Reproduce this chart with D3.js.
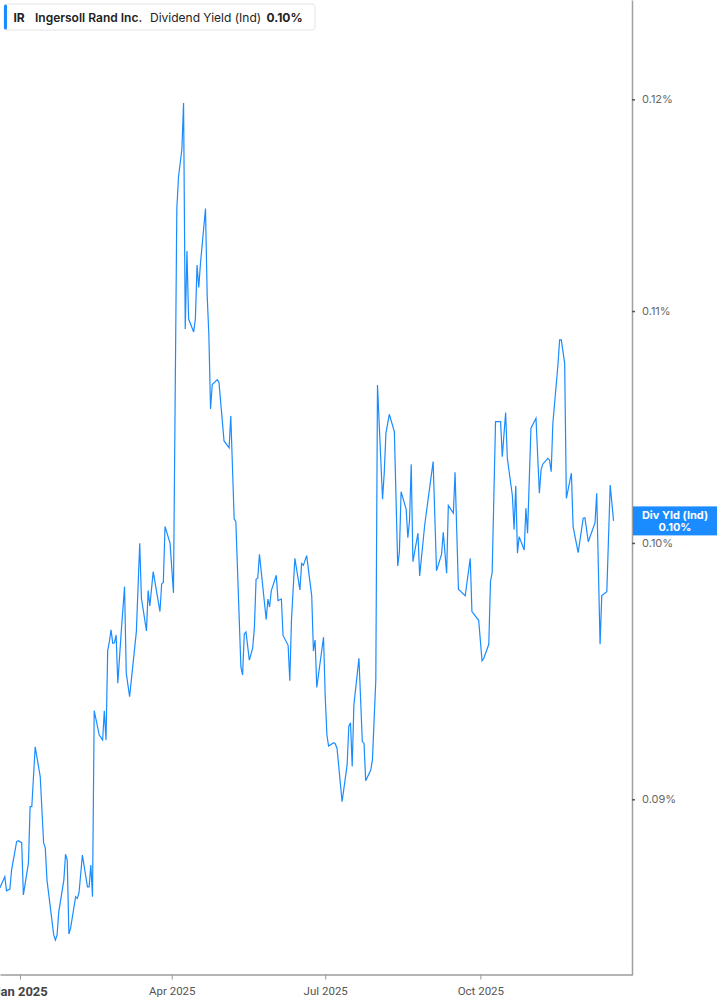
<!DOCTYPE html>
<html lang="en">
<head>
<meta charset="UTF-8">
<title>IR Dividend Yield</title>
<script src="https://d3js.org/d3.v7.min.js"></script>
<style>
  body { margin: 0; background: #fff; }
  svg { display: block; font-family: Inter, Roboto, "Open Sans", sans-serif; }
  .line { fill: none; stroke: #1a8cff; stroke-width: 1.2; }
</style>
</head>
<body>
<svg width="717" height="1005"></svg>
<script>
// daily dividend yield readings (percent)
const dates = [
  "2024-12-20","2024-12-23","2024-12-24","2024-12-26","2024-12-27","2024-12-30","2024-12-31",
  "2025-01-02","2025-01-03","2025-01-06","2025-01-07","2025-01-08","2025-01-10","2025-01-13",
  "2025-01-15","2025-01-16","2025-01-17","2025-01-21","2025-01-22","2025-01-23","2025-01-24",
  "2025-01-27","2025-01-28","2025-01-29","2025-01-30","2025-01-31","2025-02-03","2025-02-04",
  "2025-02-05","2025-02-07","2025-02-10","2025-02-11","2025-02-12","2025-02-13","2025-02-14",
  "2025-02-17","2025-02-19","2025-02-20","2025-02-21","2025-02-22","2025-02-23","2025-02-24",
  "2025-02-25","2025-02-26","2025-02-27","2025-02-28","2025-03-02","2025-03-04","2025-03-05",
  "2025-03-07","2025-03-11","2025-03-13","2025-03-14","2025-03-17","2025-03-18","2025-03-19",
  "2025-03-21","2025-03-25","2025-03-26","2025-03-27","2025-03-28","2025-03-31","2025-04-02",
  "2025-04-04","2025-04-05","2025-04-07","2025-04-08","2025-04-09","2025-04-10","2025-04-11",
  "2025-04-14","2025-04-15","2025-04-16","2025-04-17","2025-04-18","2025-04-21","2025-04-22",
  "2025-04-23","2025-04-24","2025-04-25","2025-04-28","2025-04-29","2025-05-02","2025-05-05",
  "2025-05-06","2025-05-08","2025-05-09","2025-05-12","2025-05-13","2025-05-14","2025-05-15",
  "2025-05-17","2025-05-19","2025-05-20","2025-05-21","2025-05-22","2025-05-23","2025-05-27",
  "2025-05-28","2025-05-29","2025-05-30","2025-06-02","2025-06-03","2025-06-05","2025-06-06",
  "2025-06-09","2025-06-10","2025-06-11","2025-06-13","2025-06-16","2025-06-17","2025-06-18",
  "2025-06-20","2025-06-23","2025-06-24","2025-06-25","2025-06-26","2025-06-30","2025-07-01",
  "2025-07-02","2025-07-03","2025-07-06","2025-07-07","2025-07-08","2025-07-11","2025-07-14",
  "2025-07-15","2025-07-16","2025-07-17","2025-07-18","2025-07-21","2025-07-23","2025-07-24",
  "2025-07-25","2025-07-28","2025-07-29","2025-07-31","2025-08-01","2025-08-04","2025-08-05",
  "2025-08-06","2025-08-08","2025-08-11","2025-08-13","2025-08-14","2025-08-15","2025-08-18",
  "2025-08-19","2025-08-20","2025-08-21","2025-08-22","2025-08-25","2025-08-26","2025-08-29",
  "2025-09-03","2025-09-05","2025-09-08","2025-09-09","2025-09-11","2025-09-12","2025-09-15",
  "2025-09-16","2025-09-18","2025-09-22","2025-09-25","2025-09-26","2025-09-30","2025-10-02",
  "2025-10-03","2025-10-06","2025-10-07","2025-10-08","2025-10-10","2025-10-13","2025-10-14",
  "2025-10-16","2025-10-17","2025-10-20","2025-10-21","2025-10-22","2025-10-23","2025-10-24",
  "2025-10-27","2025-10-28","2025-10-29","2025-10-31","2025-11-03","2025-11-05","2025-11-06",
  "2025-11-07","2025-11-10","2025-11-11","2025-11-12","2025-11-13","2025-11-16","2025-11-17",
  "2025-11-18","2025-11-20","2025-11-21","2025-11-24","2025-11-25","2025-11-28","2025-12-01",
  "2025-12-02","2025-12-04","2025-12-08","2025-12-09","2025-12-11","2025-12-12","2025-12-15",
  "2025-12-17","2025-12-19"
];
const yieldPct = [
  0.08678,0.08718,0.08668,0.08674,0.08742,0.08845,0.08848,
  0.08841,0.08653,0.08767,0.08973,0.08973,0.09196,0.09084,
  0.08840,0.08822,0.08706,0.08512,0.08494,0.08512,0.08594,
  0.08706,0.08799,0.08778,0.08515,0.08536,0.08647,0.08641,
  0.08661,0.08796,0.08682,0.08682,0.08760,0.08647,0.09334,
  0.09241,0.09222,0.09333,0.09222,0.09567,0.09602,0.09649,
  0.09596,0.09598,0.09629,0.09440,0.09638,0.09822,0.09479,
  0.09388,0.09642,0.09999,0.09775,0.09645,0.09806,0.09744,
  0.09883,0.09722,0.09833,0.09839,0.10068,0.09998,0.09797,
  0.11473,0.11623,0.11756,0.11982,0.10919,0.11275,0.10964,
  0.10906,0.10964,0.11210,0.11107,0.11215,0.11473,0.11071,
  0.10892,0.10566,0.10673,0.10694,0.10682,0.10428,0.10399,
  0.10536,0.10100,0.10088,0.09503,0.09472,0.09633,0.09641,
  0.09530,0.09578,0.09659,0.09852,0.09857,0.09953,0.09690,
  0.09772,0.09740,0.09805,0.09868,0.09766,0.09772,0.09627,
  0.09588,0.09449,0.09690,0.09937,0.09809,0.09916,0.09908,
  0.09948,0.09785,0.09566,0.09609,0.09423,0.09620,0.09388,
  0.09241,0.09199,0.09212,0.09207,0.09191,0.08991,0.09128,
  0.09275,0.09288,0.09122,0.09356,0.09537,0.09216,0.09210,
  0.09069,0.09109,0.09147,0.09452,0.10671,0.10181,0.10291,
  0.10461,0.10543,0.10468,0.09906,0.09964,0.10213,0.10139,
  0.10022,0.10092,0.10329,0.09923,0.10040,0.09865,0.10074,
  0.10340,0.09886,0.09954,0.10044,0.09876,0.10155,0.10123,
  0.10295,0.09812,0.09785,0.09937,0.09722,0.09687,0.09527,
  0.09536,0.09592,0.09842,0.09879,0.10511,0.10511,0.10361,
  0.10550,0.10354,0.10196,0.10056,0.10238,0.09958,0.10026,
  0.09971,0.10144,0.10040,0.10483,0.10526,0.10206,0.10305,
  0.10329,0.10354,0.10347,0.10297,0.10504,0.10759,0.10870,
  0.10870,0.10767,0.10185,0.10291,0.10067,0.09960,0.10102,
  0.10104,0.10005,0.10084,0.10206,0.09592,0.09786,0.09802,
  0.10241,0.10091
];

const xTickDates = ["2025-01-01", "2025-04-01", "2025-07-01", "2025-10-01"];
const xTickLabels = ["Jan 2025", "Apr 2025", "Jul 2025", "Oct 2025"];
const yTickValues = [0.09, 0.10, 0.11, 0.12];

const svg = d3.select("svg");
const plotW = 632, plotH = 975;
const DAY = 864e5;
const jan1 = Date.UTC(2025, 0, 1);

const parse = d3.utcParse("%Y-%m-%d");
const data = dates.map((d, i) => ({ date: parse(d), v: yieldPct[i] }));

// time and log scales
const x = d3.scaleUtc()
    .domain([new Date(jan1 - 11.86 * DAY), new Date(jan1 + 362.93 * DAY)])
    .range([0, plotW]);
const y = d3.scaleLog()
    .domain([0.08373, 0.125])
    .range([plotH, 0]);

svg.append("clipPath").attr("id", "clip")
  .append("rect").attr("width", plotW).attr("height", plotH);

const line = d3.line()
    .x(d => x(d.date))
    .y(d => y(d.v));

svg.append("path")
    .datum(data)
    .attr("class", "line")
    .attr("clip-path", "url(#clip)")
    .attr("d", line);

// bottom axis
const xAxis = svg.append("g")
    .attr("transform", `translate(0,${plotH - 0.5})`)
    .call(d3.axisBottom(x)
        .tickValues(xTickDates.map(parse))
        .tickFormat((d, i) => xTickLabels[i])
        .tickSize(5)
        .tickSizeOuter(0)
        .tickPadding(7));
xAxis.select(".domain").attr("stroke", "#b5b5b5").attr("stroke-width", 2);
xAxis.selectAll(".tick line").attr("stroke", "#999");
xAxis.selectAll(".tick text")
    .style("font-family", "Roboto, sans-serif")
    .style("font-size", (d, i) => i === 0 ? "13px" : "11.5px")
    .style("font-weight", (d, i) => i === 0 ? 700 : 400)
    .attr("fill", (d, i) => i === 0 ? "#444" : "#555");

// right axis
const yAxis = svg.append("g")
    .attr("transform", `translate(${plotW},0)`)
    .call(d3.axisRight(y)
        .tickValues(yTickValues)
        .tickFormat(d => d.toFixed(2) + "%")
        .tickSize(3)
        .tickSizeOuter(0)
        .tickPadding(7));
yAxis.select(".domain").attr("stroke", "#a0a0a0").attr("stroke-width", 1.5);
yAxis.selectAll(".tick line").attr("stroke", "#555").attr("stroke-width", 1.5);
yAxis.selectAll(".tick text")
    .attr("fill", "#666")
    .style("font-family", "Inter, sans-serif")
    .style("font-size", "11px");

// last value badge
const last = data[data.length - 1];
const by = y(last.v);
const badge = svg.append("g").attr("transform", `translate(${plotW + 1},${by})`);
badge.append("rect")
    .attr("x", 0).attr("y", -14.5)
    .attr("width", 717 - plotW - 1).attr("height", 29)
    .attr("fill", "#1a8cff");
badge.append("text")
    .attr("x", 42).attr("y", -2)
    .attr("text-anchor", "middle")
    .attr("fill", "#fff")
    .style("font-size", "11px").style("font-weight", 700)
    .text("Div Yld (Ind)");
badge.append("text")
    .attr("x", 42).attr("y", 10)
    .attr("text-anchor", "middle")
    .attr("fill", "#fff")
    .style("font-size", "11px").style("font-weight", 700)
    .text(last.v.toFixed(2) + "%");

// legend box
const legend = svg.append("g").attr("transform", "translate(4,4)");
legend.append("rect")
    .attr("width", 311).attr("height", 26).attr("rx", 3)
    .attr("fill", "#fff").attr("stroke", "#e4e4e4");
legend.append("rect")
    .attr("x", 0).attr("y", 0.5).attr("width", 3).attr("height", 25).attr("rx", 1.5)
    .attr("fill", "#1a8cff");
const legendItems = [
  { text: "IR", x: 9.5, w: 700 },
  { text: "Ingersoll Rand Inc.", x: 31, w: 600 },
  { text: "Dividend Yield (Ind)", x: 146, w: 400 },
  { text: last.v.toFixed(2) + "%", x: 262.5, w: 700 }
];
legend.selectAll("text.item")
  .data(legendItems)
  .enter().append("text")
    .attr("class", "item")
    .attr("x", d => d.x).attr("y", 17.5)
    .attr("fill", "#222")
    .style("font-size", "12px")
    .style("font-weight", d => d.w)
    .text(d => d.text);
</script>
</body>
</html>
